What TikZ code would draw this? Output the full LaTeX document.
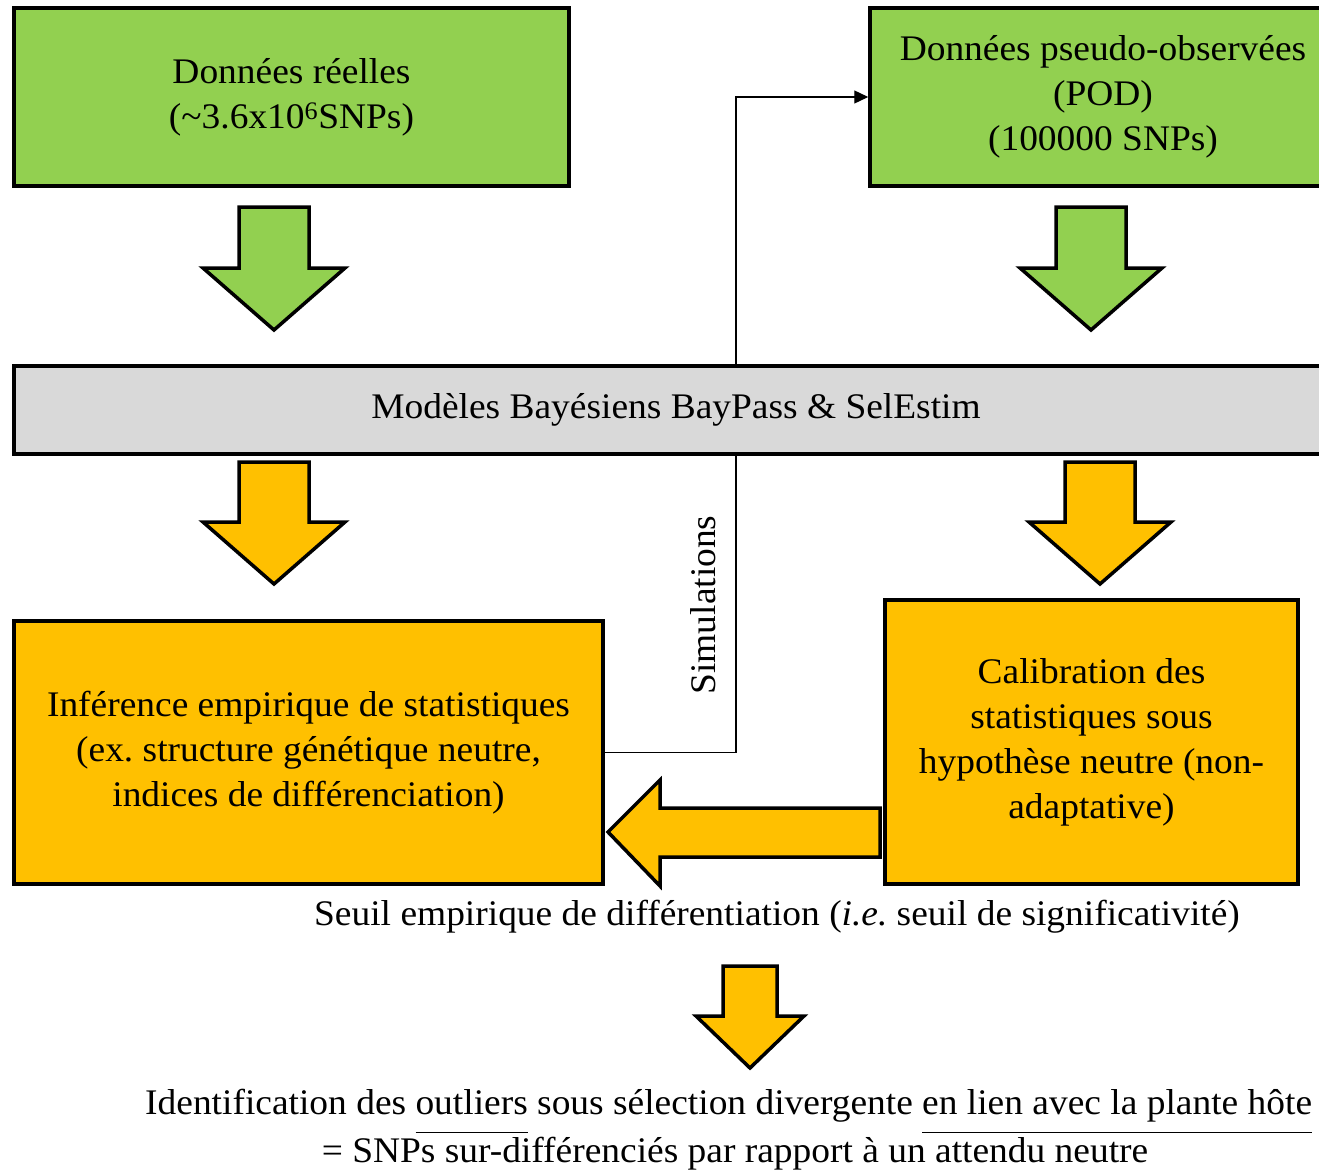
\documentclass[tikz,border=0pt]{standalone}
\usepackage{fontspec}
\setmainfont[FakeStretch=1.04]{Liberation Serif}
\usetikzlibrary{arrows.meta}
\frenchspacing
\definecolor{cgreen}{HTML}{92D050}
\definecolor{corange}{HTML}{FFC000}
\definecolor{cgray}{HTML}{D9D9D9}
\newcommand\myul[1]{\setbox0\hbox{#1}\rlap{\rule[-19pt]{\wd0}{1.4pt}}\box0\relax}
\newcommand\blockdown[8]{% fill, cx, top, shafthalf, headstart, headhalf, tip, name
  \draw[blockarrow, fill=#1] (#2-#4,#3) -- (#2+#4,#3) -- (#2+#4,#5) -- (#2+#6,#5) -- (#2,#7) -- (#2-#6,#5) -- (#2-#4,#5) -- cycle;}
\begin{document}
\begin{tikzpicture}[x=1pt,y=-1pt,
  box/.style={draw=black, line width=3.5pt, align=center, inner sep=0pt,
    font=\fontsize{36}{45}\selectfont},
  blockarrow/.style={draw=black, line width=3.5pt, line join=miter},
  conn/.style={draw=black, line width=1.3pt},
  lbl/.style={font=\fontsize{36}{45}\selectfont, inner sep=0pt}]
\useasboundingbox (0,0) rectangle (1319,1170);
\clip (0,0) rectangle (1319,1170);
\fill[white] (0,0) rectangle (1319,1170);

% connector (behind bar)
\node[box, fill=corange, minimum width=589pt, minimum height=263pt] (inf) at (308.5,752.5)
  {Inférence empirique de statistiques\\(ex. structure génétique neutre,\\indices de différenciation)};
\node[box, fill=cgreen, minimum width=466pt, minimum height=178pt] (pod) at (1103,97)
  {Données pseudo-observées\\(POD)\\(100000 SNPs)};
\coordinate (bend) at (736,752.5);
\draw[conn, -{Triangle[length=14pt,width=13pt]}] (inf.east) -- (bend) |- (pod.west);

\node[box, fill=cgreen, minimum width=555pt, minimum height=178pt] (reel) at (291.5,97)
  {Données réelles\\(\textasciitilde 3.6x10\textsuperscript{6}SNPs)};
\node[box, fill=cgray, minimum width=1324pt, minimum height=88pt] (bay) at (676,410)
  {Modèles Bayésiens BayPass \& SelEstim};
\node[box, fill=corange, minimum width=413pt, minimum height=284pt] (calib) at (1091.5,742)
  {Calibration des\\statistiques sous\\hypothèse neutre (non-\\adaptative)};

\node[lbl, rotate=90] (simu) at (703,605) {Simulations};

% block arrows
\blockdown{cgreen}{274}{207}{35}{268}{71}{330}{}
\blockdown{cgreen}{1091}{207}{35}{268}{71}{330}{}
\blockdown{corange}{274}{462}{35}{522}{71}{584}{}
\blockdown{corange}{1100}{462}{35}{522}{71}{584}{}
\blockdown{corange}{750}{966}{27}{1016}{54}{1068}{}
\draw[blockarrow, fill=corange] (880,808) -- (660,808) -- (660,780) -- (608,832) -- (660,886) -- (660,857) -- (880,857) -- cycle;

\node[lbl] (seuil) at (777,917) {Seuil empirique de différentiation (\textit{i.e.} seuil de significativité)};
\node[lbl, anchor=west] (ident) at (145,1111) {Identification des \myul{outliers} sous sélection divergente \myul{en lien avec la plante hôte}};
\node[lbl] (snp) at (735,1154) {= SNPs sur-différenciés par rapport à un attendu neutre};
\end{tikzpicture}
\end{document}
